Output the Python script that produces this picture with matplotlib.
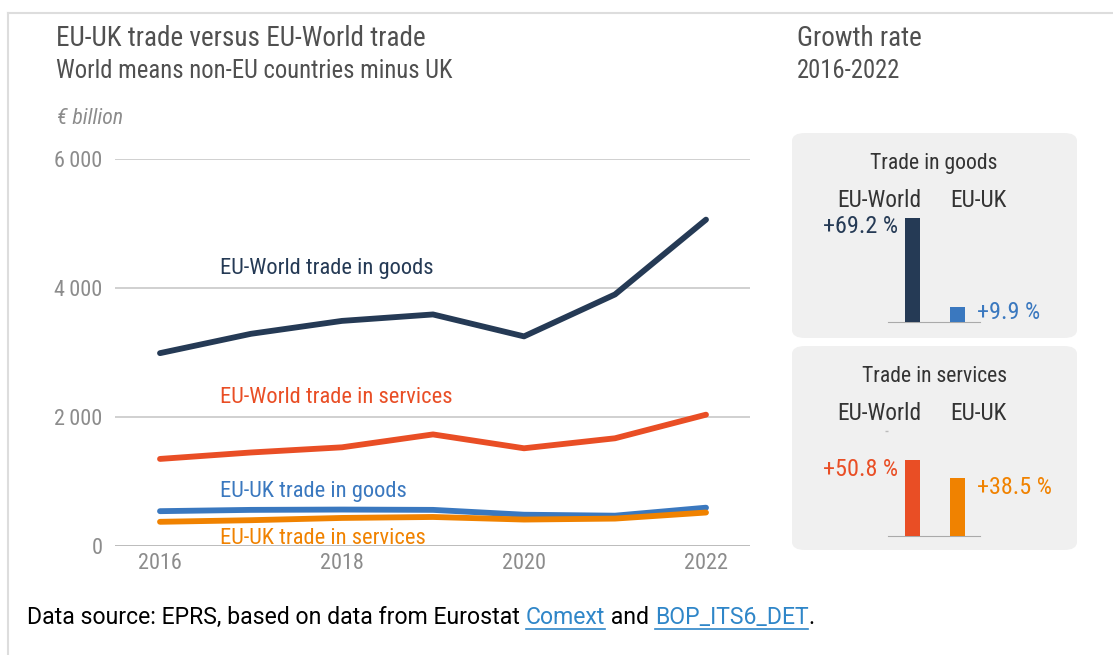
import matplotlib
matplotlib.use("Agg")
import matplotlib.pyplot as plt
from matplotlib.patches import FancyBboxPatch
from matplotlib.lines import Line2D

plt.rcParams['font.family'] = ['Roboto Condensed', 'DejaVu Sans']

# trade values, EUR billion
years = [2016, 2017, 2018, 2019, 2020, 2021, 2022]
world_goods = [2990, 3290, 3490, 3590, 3250, 3900, 5060]
world_services = [1350, 1450, 1530, 1730, 1515, 1670, 2036]
uk_goods = [540, 560, 565, 560, 485, 470, 594]
uk_services = [375, 400, 435, 450, 410, 425, 519]

# growth 2016-2022, %
growth_groups = ['EU-World', 'EU-UK']
goods_growth = [69.2, 9.9]
services_growth = [50.8, 38.5]
goods_growth_labels = ['+69.2 %', '+9.9 %']
services_growth_labels = ['+50.8 %', '+38.5 %']

yticks = [0, 2000, 4000, 6000]
ytick_labels = ['0', '2\u2009000', '4\u2009000', '6\u2009000']
xticks = [2016, 2018, 2020, 2022]

NAVY = '#253a55'
RED = '#e94e25'
BLUE = '#3a78bf'
ORANGE = '#f08200'
GREY_TXT = '#505050'
TICK_TXT = '#8c8c8c'

W, H = 1113, 655
fig = plt.figure(figsize=(W / 100, H / 100), dpi=100)


def fx(px):
    return px / W


def fy(py):
    return 1 - py / H


# outer frame (top and left edges)
fig.add_artist(Line2D([fx(8), 1], [fy(13), fy(13)], color='#dddddd', lw=1.5))
fig.add_artist(Line2D([fx(8), fx(8)], [fy(13), 0], color='#dddddd', lw=1.5))

# titles
fig.text(fx(56), fy(38), 'EU-UK trade versus EU-World trade', fontsize=19.5,
         color=GREY_TXT, va='center')
fig.text(fx(56), fy(71), 'World means non-EU countries minus UK', fontsize=17.7,
         color=GREY_TXT, va='center')
fig.text(fx(57), fy(118), '\u20ac billion', fontsize=15.7, color=TICK_TXT,
         style='italic', va='center')
fig.text(fx(797), fy(38), 'Growth rate', fontsize=19.5, color=GREY_TXT, va='center')
fig.text(fx(797), fy(71), '2016-2022', fontsize=17.7, color=GREY_TXT, va='center')

# main line chart
ax = fig.add_axes([fx(115), fy(546), fx(750) - fx(115), fy(159) - fy(546)])
ax.set_xlim(2016 - 45 / 91, 2022 + 44 / 91)
ax.set_ylim(0, 6000)
for s in ax.spines.values():
    s.set_visible(False)
ax.set_facecolor('none')

for v in yticks[1:]:
    ax.axhline(v, color='#c8c8c8', lw=1.2, zorder=1)
ax.axhline(0, color='#a8a8a8', lw=1.8, zorder=1)

series = [
    (world_goods, NAVY), (world_services, RED),
    (uk_goods, BLUE), (uk_services, ORANGE),
]
for vals, col in series:
    ax.plot(years, vals, color=col, lw=4.2, solid_capstyle='round',
            solid_joinstyle='round', zorder=3, clip_on=False)

ax.set_yticks(yticks)
ax.set_yticklabels(ytick_labels)
ax.set_xticks(xticks)
ax.tick_params(length=0, labelsize=16, labelcolor=TICK_TXT)
ax.tick_params(axis='y', pad=9)
ax.tick_params(axis='x', pad=5)

label_x = 2016 + 60 / 91
ax.text(label_x, 4300, 'EU-World trade in goods', color=NAVY, fontsize=16.2, va='center')
ax.text(label_x, 2300, 'EU-World trade in services', color=RED, fontsize=16.2, va='center')
ax.text(label_x, 850, 'EU-UK trade in goods', color=BLUE, fontsize=16.2, va='center')
ax.text(label_x, 110, 'EU-UK trade in services', color=ORANGE, fontsize=16.2, va='center')

# growth panels: title, box top/bottom, baseline (px), values, labels, colours, label y-offsets
panels = [
    ('Trade in goods', 133, 338, 322, goods_growth, goods_growth_labels,
     [NAVY, BLUE], (-6, -4)),
    ('Trade in services', 346, 550, 536, services_growth, services_growth_labels,
     [RED, ORANGE], (-7, -7)),
]
for title, top, bottom, base, vals, labels, cols, offs in panels:
    box = FancyBboxPatch((fx(792), fy(bottom)), fx(1077) - fx(792), fy(top) - fy(bottom),
                         boxstyle='round,pad=0,rounding_size=0.012',
                         transform=fig.transFigure, facecolor='#f0f0f0',
                         edgecolor='none', zorder=0)
    fig.add_artist(box)
    fig.text(fx(934), fy(top + 31), title, fontsize=15.6, color='#333333',
             ha='center', va='center')
    fig.text(fx(879), fy(top + 67), growth_groups[0], fontsize=16.8, color='#333333',
             ha='center', va='center')
    fig.text(fx(978), fy(top + 67), growth_groups[1], fontsize=16.8, color='#333333',
             ha='center', va='center')

    bx = fig.add_axes([fx(888), fy(base), fx(980) - fx(888), fy(base - 105) - fy(base)])
    bx.set_xlim(-24 / 45, 1 + 23 / 45)
    bx.set_ylim(0, 70)
    bx.set_facecolor('none')
    for s in bx.spines.values():
        s.set_visible(False)
    bx.spines['bottom'].set_visible(True)
    bx.spines['bottom'].set_color('#aaaaaa')
    bx.bar([0, 1], vals, width=15 / 45, color=cols, zorder=3)
    bx.set_xticks([])
    bx.set_yticks([70])
    bx.set_yticklabels([])
    bx.tick_params(axis='y', length=2, color='#bbbbbb', width=1)

    bx.annotate(labels[0], (0, vals[0]), xytext=(-10, offs[0]), textcoords='offset points',
                ha='right', va='center', color=cols[0], fontsize=17.4)
    bx.annotate(labels[1], (1, vals[1]), xytext=(14.4, offs[1]), textcoords='offset points',
                ha='left', va='center', color=cols[1], fontsize=17.4)

# footer with link-styled parts
parts = [
    ('Data source: EPRS, based on data from Eurostat ', 'black', False),
    ('Comext', '#2f86c8', True),
    (' and ', 'black', False),
    ('BOP_ITS6_DET', '#2f86c8', True),
    ('.', 'black', False),
]
fig.canvas.draw()
renderer = fig.canvas.get_renderer()
x = fx(27)
for txt, col, link in parts:
    t = fig.text(x, fy(617), txt, fontsize=16.6, color=col, va='center',
                 family=['Roboto', 'DejaVu Sans'])
    bb = t.get_window_extent(renderer).transformed(fig.transFigure.inverted())
    if link:
        fig.add_artist(Line2D([bb.x0, bb.x1], [fy(629), fy(629)], color=col, lw=1.2))
    x = bb.x1

fig.savefig('out.png', dpi=100)
